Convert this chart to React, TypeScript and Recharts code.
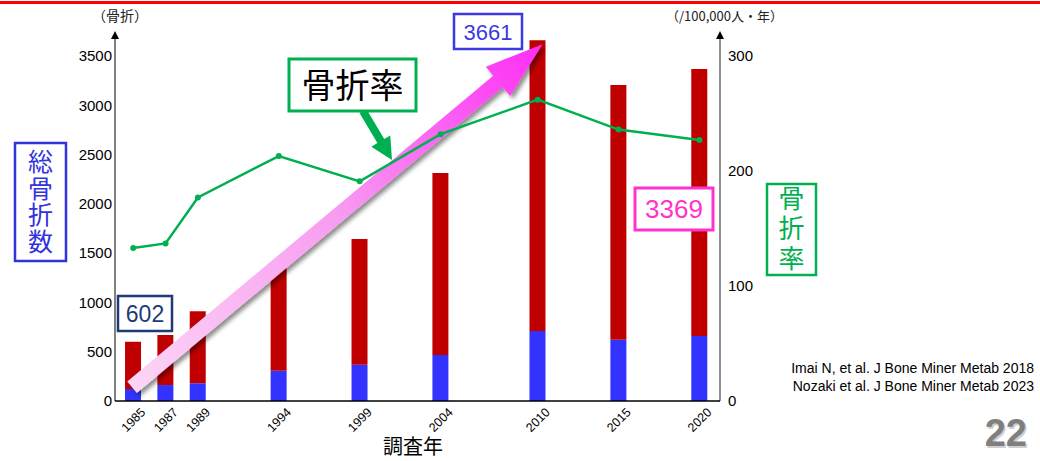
import React from 'react';
import { ComposedChart, Bar, Line, XAxis, YAxis, ReferenceLine } from 'recharts';

const years = [1985, 1987, 1989, 1994, 1999, 2004, 2010, 2015, 2020];
const totalFractures = [602, 670, 910, 1380, 1643, 2313, 3661, 3206, 3369];
const blueFractures = [122, 162, 180, 307, 368, 467, 710, 622, 660];
const fractureRate = [133, 137, 177, 213, 191, 232, 262, 236, 227];
const leftTicks = [0, 500, 1000, 1500, 2000, 2500, 3000, 3500];
const rightTicks = [0, 100, 200, 300];

const X_MIN = 1983.875;
const X_MAX = 2021.27;
const LEFT_MAX = 3754;
const RIGHT_MAX = 321.7;

const data = years.map((y, i) => ({
  year: y,
  blue: blueFractures[i],
  red: totalFractures[i] - blueFractures[i],
  rate: fractureRate[i],
}));

const LATIN = "'Liberation Sans', Arial, sans-serif";
const CJK = "'Noto Sans CJK JP', 'Noto Sans', sans-serif";

const XTick = (props: any) => {
  const { x, y, payload } = props;
  const ax = x + 13;
  const ay = y + 12;
  return (
    <text x={ax} y={ay} transform={`rotate(-45 ${ax} ${ay})`} textAnchor="end" fontSize={12.5} fontFamily={LATIN} fill="#000">
      {payload.value}
    </text>
  );
};

const axisArrow = (color: string, width: number) => (p: any) => {
  const x = p.x1;
  const top = Math.min(p.y1, p.y2);
  const bottom = Math.max(p.y1, p.y2);
  return (
    <g>
      <line x1={x} y1={bottom} x2={x} y2={top + 6} stroke={color} strokeWidth={width} />
      <polygon points={`${x - 4},${top + 8} ${x + 4},${top + 8} ${x},${top}`} fill="#000" />
    </g>
  );
};

const PinkArrow = (p: any) => {
  const { x1, y1, x2, y2 } = p;
  const dx = x2 - x1;
  const dy = y2 - y1;
  const L = Math.sqrt(dx * dx + dy * dy);
  const ux = dx / L;
  const uy = dy / L;
  const nx = -uy;
  const ny = ux;
  const sw = 7.5;
  const hw = 19;
  const hl = 58;
  const bx = x2 - ux * hl;
  const by = y2 - uy * hl;
  const pts = [
    [x1 + nx * sw, y1 + ny * sw],
    [bx + nx * sw, by + ny * sw],
    [bx + nx * hw, by + ny * hw],
    [x2, y2],
    [bx - nx * hw, by - ny * hw],
    [bx - nx * sw, by - ny * sw],
    [x1 - nx * sw, y1 - ny * sw],
  ]
    .map((q) => `${q[0]},${q[1]}`)
    .join(' ');
  return (
    <g>
      <defs>
        <linearGradient id="pinkGrad" gradientUnits="userSpaceOnUse" x1={x1} y1={y1} x2={x2} y2={y2}>
          <stop offset="0" stopColor="#fcd6f6" />
          <stop offset="0.5" stopColor="#f79cf0" />
          <stop offset="1" stopColor="#ff2cf5" />
        </linearGradient>
        <filter id="pinkShadow" x="-20%" y="-20%" width="140%" height="140%">
          <feDropShadow dx="3" dy="3" stdDeviation="2" floodColor="#000" floodOpacity="0.45" />
        </filter>
      </defs>
      <polygon points={pts} fill="url(#pinkGrad)" filter="url(#pinkShadow)" />
    </g>
  );
};

const GreenArrow = ({ x1, y1, x2, y2 }: any) => {
  const dx = x2 - x1;
  const dy = y2 - y1;
  const L = Math.sqrt(dx * dx + dy * dy);
  const ux = dx / L;
  const uy = dy / L;
  const nx = -uy;
  const ny = ux;
  const sw = 4;
  const hw = 11;
  const hl = 22;
  const bx = x2 - ux * hl;
  const by = y2 - uy * hl;
  const pts = [
    [x1 + nx * sw, y1 + ny * sw],
    [bx + nx * sw, by + ny * sw],
    [bx + nx * hw, by + ny * hw],
    [x2, y2],
    [bx - nx * hw, by - ny * hw],
    [bx - nx * sw, by - ny * sw],
    [x1 - nx * sw, y1 - ny * sw],
  ]
    .map((q) => `${q[0]},${q[1]}`)
    .join(' ');
  return <polygon points={pts} fill="#00b050" />;
};

export default function App() {
  return (
    <div style={{ position: 'absolute', left: 0, top: 0, width: 1040, height: 461, background: '#fff' }}>
      <ComposedChart
        width={1040}
        height={461}
        data={data}
        margin={{ top: 31, right: 260, bottom: 20, left: 55 }}
      >
        <XAxis
          dataKey="year"
          type="number"
          domain={[X_MIN, X_MAX]}
          ticks={years}
          interval={0}
          allowDataOverflow
          tick={<XTick />}
          tickLine={false}
          tickSize={0}
          tickMargin={0}
          height={40}
          axisLine={{ stroke: '#000', strokeWidth: 1.5 }}
        />
        <YAxis
          yAxisId="left"
          domain={[0, LEFT_MAX]}
          ticks={leftTicks}
          interval={0}
          width={60}
          axisLine={false}
          tickLine={false}
          tick={{ fontSize: 15, fill: '#000', fontFamily: LATIN, dx: 5 }}
        />
        <YAxis
          yAxisId="right"
          orientation="right"
          domain={[0, RIGHT_MAX]}
          ticks={rightTicks}
          interval={0}
          width={60}
          axisLine={false}
          tickLine={false}
          tick={{ fontSize: 15, fill: '#000', fontFamily: LATIN, textAnchor: 'start' }}
        />
        <Bar yAxisId="left" dataKey="blue" stackId="a" fill="#3333ff" barSize={16} isAnimationActive={false} />
        <Bar yAxisId="left" dataKey="red" stackId="a" fill="#c00000" barSize={16} isAnimationActive={false} />
        <ReferenceLine
          yAxisId="left"
          segment={[{ x: X_MIN, y: 0 }, { x: X_MIN, y: LEFT_MAX }]}
          ifOverflow="visible"
          shape={axisArrow('#808080', 2)}
        />
        <ReferenceLine
          yAxisId="left"
          segment={[{ x: X_MAX, y: 0 }, { x: X_MAX, y: LEFT_MAX }]}
          ifOverflow="visible"
          shape={axisArrow('#555', 1.3)}
        />
        <ReferenceLine
          yAxisId="left"
          segment={[{ x: 1984.93, y: 140 }, { x: 2010.3, y: 3620 }]}
          ifOverflow="visible"
          shape={PinkArrow}
        />
        <Line
          yAxisId="right"
          dataKey="rate"
          type="linear"
          stroke="#00b050"
          strokeWidth={2.5}
          dot={{ r: 3, fill: '#00b050', stroke: '#00b050', strokeWidth: 0 }}
          isAnimationActive={false}
        />
      </ComposedChart>
      <svg
        width={1040}
        height={461}
        style={{ position: 'absolute', left: 0, top: 0, pointerEvents: 'none' }}
      >
        <rect x={0} y={1} width={1040} height={3} fill="#ff0000" />
        <text x={92} y={21} fontSize={14} fontFamily={CJK} fill="#222">（骨折）</text>
        <text x={666} y={21} fontSize={13} fontFamily={CJK} fill="#222">（/100,000人・年）</text>
        <text x={413} y={454} fontSize={20} fontFamily={CJK} fill="#000" textAnchor="middle">調査年</text>

        <rect x={15} y={143} width={51} height={118} fill="#fff" stroke="#3333dd" strokeWidth={2.5} />
        <text x={40.5} y={202} fontSize={25} fontFamily={CJK} fill="#3333dd" textAnchor="middle" writingMode="vertical-rl" letterSpacing={1.5} style={{ writingMode: 'vertical-rl' } as any}>総骨折数</text>

        <rect x={767} y={184} width={49} height={91} fill="#fff" stroke="#00b050" strokeWidth={2.5} />
        <text x={791.5} y={230} fontSize={26} fontFamily={CJK} fill="#00b050" textAnchor="middle" writingMode="vertical-rl" letterSpacing={4} style={{ writingMode: 'vertical-rl' } as any}>骨折率</text>

        <rect x={118} y={296} width={54} height={35} fill="#fff" stroke="#1f3a78" strokeWidth={2.5} />
        <text x={145} y={322} fontSize={23} fontFamily={LATIN} fill="#1f3a78" textAnchor="middle">602</text>

        <rect x={454} y={14} width={68} height={35} fill="#fff" stroke="#3a3ae0" strokeWidth={2.5} />
        <text x={488} y={40} fontSize={22} fontFamily={LATIN} fill="#3a3ae0" textAnchor="middle">3661</text>

        <rect x={635} y={188} width={78} height={42} fill="#fff" stroke="#ff33cc" strokeWidth={3} />
        <text x={674} y={218} fontSize={26} fontFamily={LATIN} fill="#ff33cc" textAnchor="middle">3369</text>

        <GreenArrow x1={363} y1={111} x2={392} y2={160} />
        <rect x={289} y={59} width={127} height={52} fill="#fff" stroke="#00b050" strokeWidth={3} />
        <text x={352.5} y={98} fontSize={34} fontFamily={CJK} fill="#000" textAnchor="middle">骨折率</text>

        <text x={1034} y={373} fontSize={14} fontFamily={LATIN} fill="#000" textAnchor="end">Imai N, et al. J Bone Miner Metab 2018</text>
        <text x={1034} y={391} fontSize={14} fontFamily={LATIN} fill="#000" textAnchor="end">Nozaki et al. J Bone Miner Metab 2023</text>

        <text x={1027} y={446} fontSize={38} fontWeight="bold" fontFamily={LATIN} fill="#cfcfcf" textAnchor="end" transform="translate(1.5,1.5)">22</text>
        <text x={1027} y={446} fontSize={38} fontWeight="bold" fontFamily={LATIN} fill="#7f7f7f" textAnchor="end">22</text>
      </svg>
    </div>
  );
}
